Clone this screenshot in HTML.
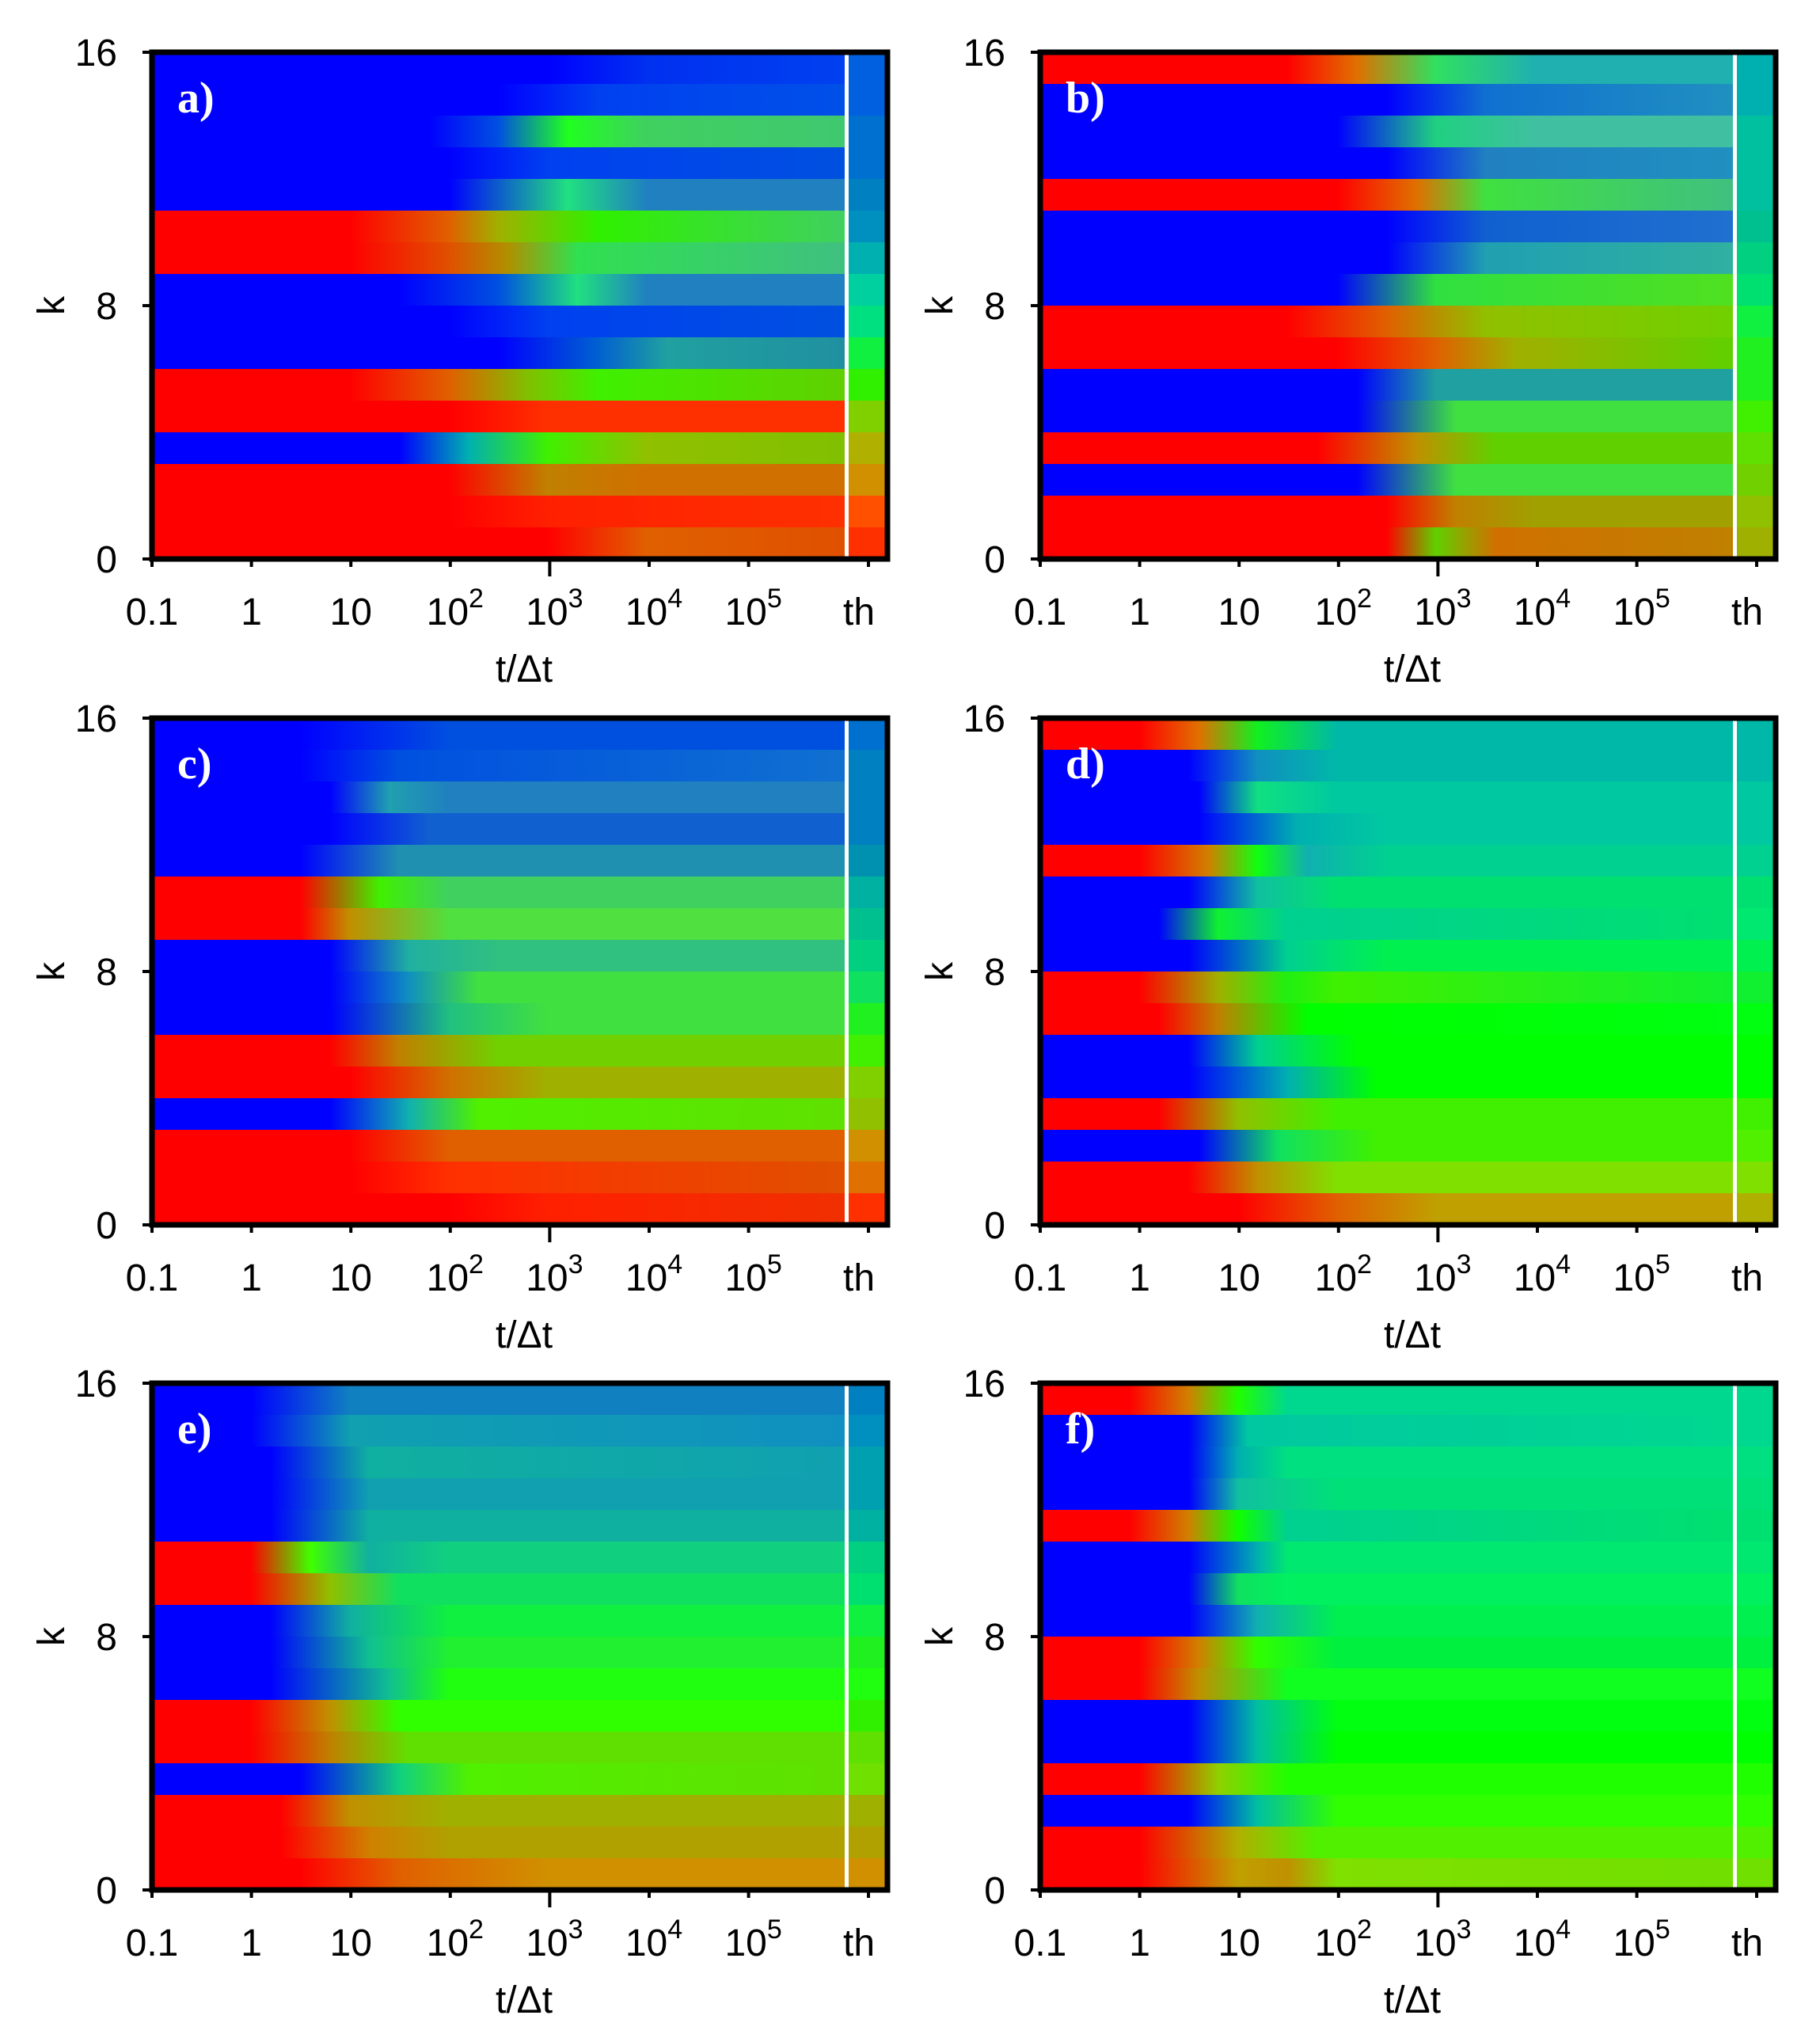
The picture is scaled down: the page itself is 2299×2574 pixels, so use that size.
<!DOCTYPE html>
<html><head><meta charset="utf-8">
<style>
html,body{margin:0;padding:0;background:#fff;}
svg{display:block;}
text{font-family:"Liberation Sans",sans-serif;}
</style></head>
<body>
<svg id="s" width="2299" height="2574" xmlns="http://www.w3.org/2000/svg"></svg>
<script>
const P1=['B','B','B','B','B','R','R','B','B','B','R','R','B','R','R','R'];
const P2=['R','B','B','B','R','B','B','B','R','R','B','B','R','B','R','R'];
const C={R:'#ff0000',B:'#0000ff'};
const panels=[
 {x:192,y:66,lab:'a)',pat:P1,rows:[
  [4,[[5,'#0030f0'],[7,'#0040f0']],'#0060e0'],
  [3.5,[[4.5,'#0040f0'],[7,'#0050e8']],'#0060e0'],
  [2.8,[[3.5,'#0050e0'],[4.2,'#20ff20'],[5,'#40d060'],[7,'#40c870']],'#0070d0'],
  [3,[[4,'#0040f0'],[7,'#0050e0']],'#0070d0'],
  [3,[[4.2,'#20e080'],[5,'#2080c0'],[7,'#2080c0']],'#0080c0'],
  [2,[[3,'#e06000'],[3.5,'#a0b000'],[4.5,'#30f000'],[7,'#40d060']],'#0090c0'],
  [2,[[3,'#e05000'],[3.6,'#b09000'],[4.3,'#30e050'],[7,'#40c080']],'#00b0b0'],
  [2.5,[[3.5,'#0050e0'],[4.3,'#20e080'],[5,'#2080c0'],[7,'#2080c0']],'#00d0a0'],
  [3,[[4,'#0040f0'],[7,'#0050e0']],'#00e080'],
  [3.5,[[4.5,'#0060d0'],[5.2,'#20a0a0'],[7,'#2090a0']],'#10f040'],
  [2,[[3,'#e06000'],[3.8,'#80c000'],[4.5,'#40f000'],[7,'#60d000']],'#30f000'],
  [3,[[4,'#ff3000'],[7,'#ff3000']],'#80d000'],
  [2.5,[[3.2,'#00b0b0'],[4,'#40f000'],[5,'#90c000'],[7,'#80c000']],'#b0b000'],
  [3,[[4,'#c08000'],[5,'#d07000'],[7,'#d07000']],'#d09000'],
  [3,[[4,'#ff2000'],[7,'#ff3000']],'#ff5000'],
  [4,[[5,'#e06000'],[7,'#e05000']],'#ff3000']]},
 {x:1314,y:66,lab:'b)',pat:P2,rows:[
  [2.5,[[3.2,'#e07000'],[4,'#30e060'],[5,'#20b0b0'],[7,'#20b0b0']],'#00b0b0'],
  [3.5,[[4.5,'#1070d0'],[7,'#2090c0']],'#00b0b0'],
  [3,[[4,'#20d080'],[5,'#40c0a0'],[7,'#40c0a0']],'#00c0a0'],
  [3.5,[[4.5,'#2080c0'],[7,'#2090c0']],'#00c0a0'],
  [3,[[3.8,'#e07000'],[4.5,'#40e040'],[7,'#40c080']],'#00c0a0'],
  [3.5,[[4.5,'#1060d0'],[7,'#2070d0']],'#00c090'],
  [3.5,[[4.5,'#20a0b0'],[7,'#30b0a0']],'#00d080'],
  [3,[[4,'#30e040'],[7,'#50e020']],'#00e070'],
  [2.5,[[3.5,'#e06000'],[4.5,'#90c000'],[7,'#70d000']],'#10f040'],
  [3,[[4,'#e06000'],[4.8,'#a0b000'],[7,'#60d000']],'#20f020'],
  [3.2,[[4,'#20a0a0'],[7,'#20a0a0']],'#20f020'],
  [3.2,[[4.2,'#40e040'],[7,'#40e040']],'#40f000'],
  [2.8,[[3.8,'#c09000'],[4.6,'#60d000'],[7,'#60d000']],'#60e000'],
  [3.2,[[4.2,'#40e040'],[7,'#40e040']],'#70d000'],
  [3.5,[[4.2,'#c08000'],[5,'#a0a000'],[7,'#a0a000']],'#90c000'],
  [3.5,[[4,'#60d000'],[4.6,'#d07000'],[7,'#c08000']],'#a0b000']]},
 {x:192,y:907,lab:'c)',pat:P1,rows:[
  [1.5,[[3,'#0050e0'],[7,'#0050e0']],'#0070d0'],
  [1.5,[[2.5,'#0050e0'],[7,'#1070d0']],'#0080c0'],
  [1.8,[[2.4,'#20a0b0'],[3,'#2080c0'],[7,'#2080c0']],'#0080c0'],
  [1.8,[[2.8,'#1060d0'],[7,'#1060d0']],'#0080c0'],
  [1.5,[[2.5,'#2090b0'],[7,'#2090b0']],'#0090b0'],
  [1.5,[[2.3,'#40f000'],[3,'#40d060'],[7,'#40d060']],'#00b0a0'],
  [1.5,[[2,'#c09000'],[3,'#50e040'],[7,'#50e040']],'#00c090'],
  [1.8,[[2.6,'#20b0a0'],[3.5,'#30c080'],[7,'#30c080']],'#00d080'],
  [1.8,[[2.6,'#1090c0'],[3.3,'#40e040'],[7,'#40e040']],'#10e060'],
  [1.8,[[3,'#20c080'],[4,'#40e040'],[7,'#40e040']],'#20f020'],
  [1.8,[[2.5,'#c08000'],[3.5,'#70d000'],[7,'#70d000']],'#40f000'],
  [2,[[3,'#d07000'],[4,'#a0b000'],[7,'#a0b000']],'#80d000'],
  [1.8,[[2.6,'#10b0b0'],[3.3,'#50f000'],[7,'#60e000']],'#90c000'],
  [2,[[3,'#e06000'],[7,'#e06000']],'#d09000'],
  [2,[[3,'#ff3000'],[7,'#e05000']],'#e07000'],
  [3,[[4,'#ff2000'],[7,'#f03000']],'#ff3000']]},
 {x:1314,y:907,lab:'d)',pat:P2,rows:[
  [1,[[1.6,'#e07000'],[2.2,'#10f020'],[3,'#00b8a8'],[7,'#00b8a8']],'#00b8a8'],
  [1.5,[[2.2,'#1090c0'],[3,'#00b8a8'],[7,'#00b8a8']],'#00b8a8'],
  [1.6,[[2.2,'#10e080'],[3,'#00c8a0'],[7,'#00c8a0']],'#00c8a0'],
  [1.6,[[2.6,'#00b0b0'],[3.5,'#00c8a0'],[7,'#00c8a0']],'#00c8a0'],
  [1,[[1.7,'#d08000'],[2.2,'#10ff10'],[2.7,'#10b0b0'],[3.5,'#00d090'],[7,'#00d090']],'#00d090'],
  [1.5,[[2.2,'#10c0a0'],[3,'#00e070'],[7,'#00e070']],'#00e070'],
  [1.2,[[1.8,'#10f030'],[2.5,'#00d090'],[7,'#00e070']],'#00e870'],
  [1.5,[[2.5,'#00d090'],[3.5,'#00f050'],[7,'#00f050']],'#00f050'],
  [1,[[1.8,'#a0b000'],[2.5,'#20f010'],[3,'#40f000'],[7,'#10f030']],'#10f030'],
  [1.2,[[1.8,'#c08000'],[2.7,'#00ff00'],[7,'#00ff10']],'#00ff10'],
  [1.5,[[2.2,'#00d090'],[3.2,'#00ff00'],[7,'#00ff00']],'#00ff00'],
  [1.5,[[2.5,'#00b0b0'],[3.4,'#00ff00'],[7,'#00ff00']],'#00ff00'],
  [1.2,[[2,'#90c000'],[3,'#40f000'],[7,'#40f000']],'#40f000'],
  [1.6,[[2.4,'#10e060'],[3.4,'#40f000'],[7,'#40f000']],'#50f000'],
  [1.5,[[2.2,'#c09000'],[3,'#80e000'],[7,'#80e000']],'#80e000'],
  [2,[[3,'#e06000'],[4,'#c0a000'],[7,'#c0a000']],'#b0b000']]},
 {x:192,y:1747,lab:'e)',pat:P1,rows:[
  [1,[[2,'#1080c0'],[7,'#1080c0']],'#0080c0'],
  [1,[[2,'#10a0b0'],[7,'#1090c0']],'#0090c0'],
  [1.2,[[2.2,'#10b0a0'],[7,'#10a0b0']],'#00a0b0'],
  [1.2,[[2.2,'#10a0b0'],[7,'#10a0b0']],'#00a0b0'],
  [1.2,[[2.2,'#10b0a0'],[7,'#10b0a0']],'#00b0a0'],
  [1,[[1.6,'#40ff00'],[2.2,'#10b0a0'],[3,'#10d080'],[7,'#10d080']],'#00d080'],
  [1,[[1.8,'#90c000'],[2.5,'#10e060'],[7,'#10e060']],'#00e070'],
  [1.2,[[2,'#10b0a0'],[3,'#10f040'],[7,'#10f040']],'#10f040'],
  [1.2,[[2.2,'#10c090'],[3,'#20f030'],[7,'#20f030']],'#20f020'],
  [1.2,[[2.4,'#10c090'],[3,'#20ff10'],[7,'#20ff10']],'#20ff10'],
  [1,[[1.8,'#c09000'],[2.5,'#30ff00'],[7,'#30ff00']],'#30f000'],
  [1,[[1.8,'#c08000'],[2.6,'#60e000'],[7,'#60e000']],'#60e000'],
  [1.5,[[2.5,'#10d080'],[3.2,'#50f000'],[7,'#60e000']],'#70e000'],
  [1.3,[[2,'#c09000'],[3,'#a0b000'],[7,'#a0b000']],'#a0b000'],
  [1.3,[[2.2,'#d08000'],[3,'#b0a000'],[7,'#b0a000']],'#b0a000'],
  [1.5,[[2.5,'#e06000'],[4,'#d09000'],[7,'#d09000']],'#d09000']]},
 {x:1314,y:1747,lab:'f)',pat:P2,rows:[
  [0.9,[[1.5,'#d08000'],[2,'#20ff00'],[2.5,'#00d890'],[7,'#00d890']],'#00d890'],
  [1.5,[[2.1,'#00c8a0'],[7,'#00d890']],'#00d890'],
  [1.5,[[2,'#00b0b0'],[2.5,'#00e080'],[7,'#00e080']],'#00e080'],
  [1.5,[[2,'#10c0a0'],[3,'#00e078'],[7,'#00e078']],'#00e078'],
  [0.9,[[1.5,'#d08000'],[2,'#10ff00'],[2.5,'#00d090'],[7,'#00e070']],'#00e070'],
  [1.5,[[2.2,'#00b0b0'],[2.5,'#00e870'],[7,'#00e870']],'#00e870'],
  [1.5,[[2,'#10e060'],[2.5,'#00f060'],[7,'#00f060']],'#00f060'],
  [1.5,[[2.2,'#10b0b0'],[3,'#00f050'],[7,'#00f050']],'#00f050'],
  [1,[[1.6,'#d08000'],[2.2,'#30ff00'],[3,'#00f040'],[7,'#00f040']],'#00f040'],
  [1,[[1.6,'#c09000'],[2.5,'#10ff20'],[7,'#10ff20']],'#10ff20'],
  [1.5,[[2.2,'#00c0a0'],[3,'#00ff10'],[7,'#00ff10']],'#00ff10'],
  [1.5,[[2.2,'#00c0a0'],[3,'#00ff00'],[7,'#00ff00']],'#00ff00'],
  [1,[[1.8,'#90d000'],[2.5,'#20ff00'],[7,'#20ff00']],'#20ff00'],
  [1.5,[[2.2,'#00c0a0'],[3,'#30ff00'],[7,'#30ff00']],'#30ff00'],
  [1,[[2,'#b0b000'],[2.8,'#50f000'],[7,'#50f000']],'#50f000'],
  [1,[[2,'#c0a000'],[2.5,'#c09000'],[3,'#80e000'],[7,'#70e000']],'#70e000']]}
];
const W=929,H=640,D=125.6,DW=875;
let h='<defs>';let body='';
panels.forEach((p,pi)=>{
  p.rows.forEach((rw,ri)=>{
    const id='g'+pi+'_'+ri;const init=C[p.pat[ri]];
    h+=`<linearGradient id="${id}" x1="0" x2="1" y1="0" y2="0"><stop offset="0" stop-color="${init}"/><stop offset="${(rw[0]/7).toFixed(3)}" stop-color="${init}"/>`;
    rw[1].forEach(s=>{h+=`<stop offset="${Math.min(1,s[0]/7).toFixed(3)}" stop-color="${s[1]}"/>`;});
    h+='</linearGradient>';
    const y=p.y+ri*40;
    body+=`<rect x="${p.x}" y="${y}" width="${DW}" height="40" fill="url(#${id})"/>`;
    body+=`<rect x="${p.x+DW}" y="${y}" width="${W-DW}" height="40" fill="${rw[2]}"/>`;
  });
  body+=`<rect x="${p.x+DW}" y="${p.y}" width="5" height="${H}" fill="#fff"/>`;
  body+=`<rect x="${p.x}" y="${p.y}" width="${W}" height="${H}" fill="none" stroke="#000" stroke-width="7"/>`;
  body+=`<text x="${p.x+32}" y="${p.y+76}" font-weight="bold" font-size="56" fill="#fff" style="font-family:'Liberation Serif',serif">${p.lab}</text>`;
  [[16,0],[8,320],[0,640]].forEach(t=>{
    body+=`<line x1="${p.x-12}" x2="${p.x}" y1="${p.y+t[1]}" y2="${p.y+t[1]}" stroke="#000" stroke-width="4"/>`;
    body+=`<text x="${p.x-44}" y="${p.y+t[1]+17}" font-size="48" text-anchor="end">${t[0]}</text>`;
  });
  body+=`<text transform="translate(${p.x-128},${p.y+320}) rotate(-90)" font-size="48" text-anchor="middle" dy="17">k</text>`;
  const labs=['0.1','1','10','10|2','10|3','10|4','10|5'];
  const by=p.y+H;
  for(let i=0;i<7;i++){
    const x=p.x+i*D;
    body+=`<line x1="${x}" x2="${x}" y1="${by}" y2="${by+(i==4?22:10)}" stroke="#000" stroke-width="4"/>`;
    const l=labs[i];
    if(l.includes('|')){const [a,e]=l.split('|');
      body+=`<text x="${x+6}" y="${by+83}" font-size="48" text-anchor="middle">${a}<tspan font-size="34" dy="-22">${e}</tspan></text>`;
    } else body+=`<text x="${x}" y="${by+83}" font-size="48" text-anchor="middle">${l}</text>`;
  }
  const tx=p.x+905;
  body+=`<line x1="${tx}" x2="${tx}" y1="${by}" y2="${by+10}" stroke="#000" stroke-width="4"/>`;
  body+=`<text x="${tx-12}" y="${by+83}" font-size="48" text-anchor="middle">th</text>`;
  body+=`<text x="${p.x+470}" y="${by+155}" font-size="48" text-anchor="middle">t/Δt</text>`;
});
h+='</defs>';
document.getElementById('s').innerHTML=h+body;
</script>
</body></html>
